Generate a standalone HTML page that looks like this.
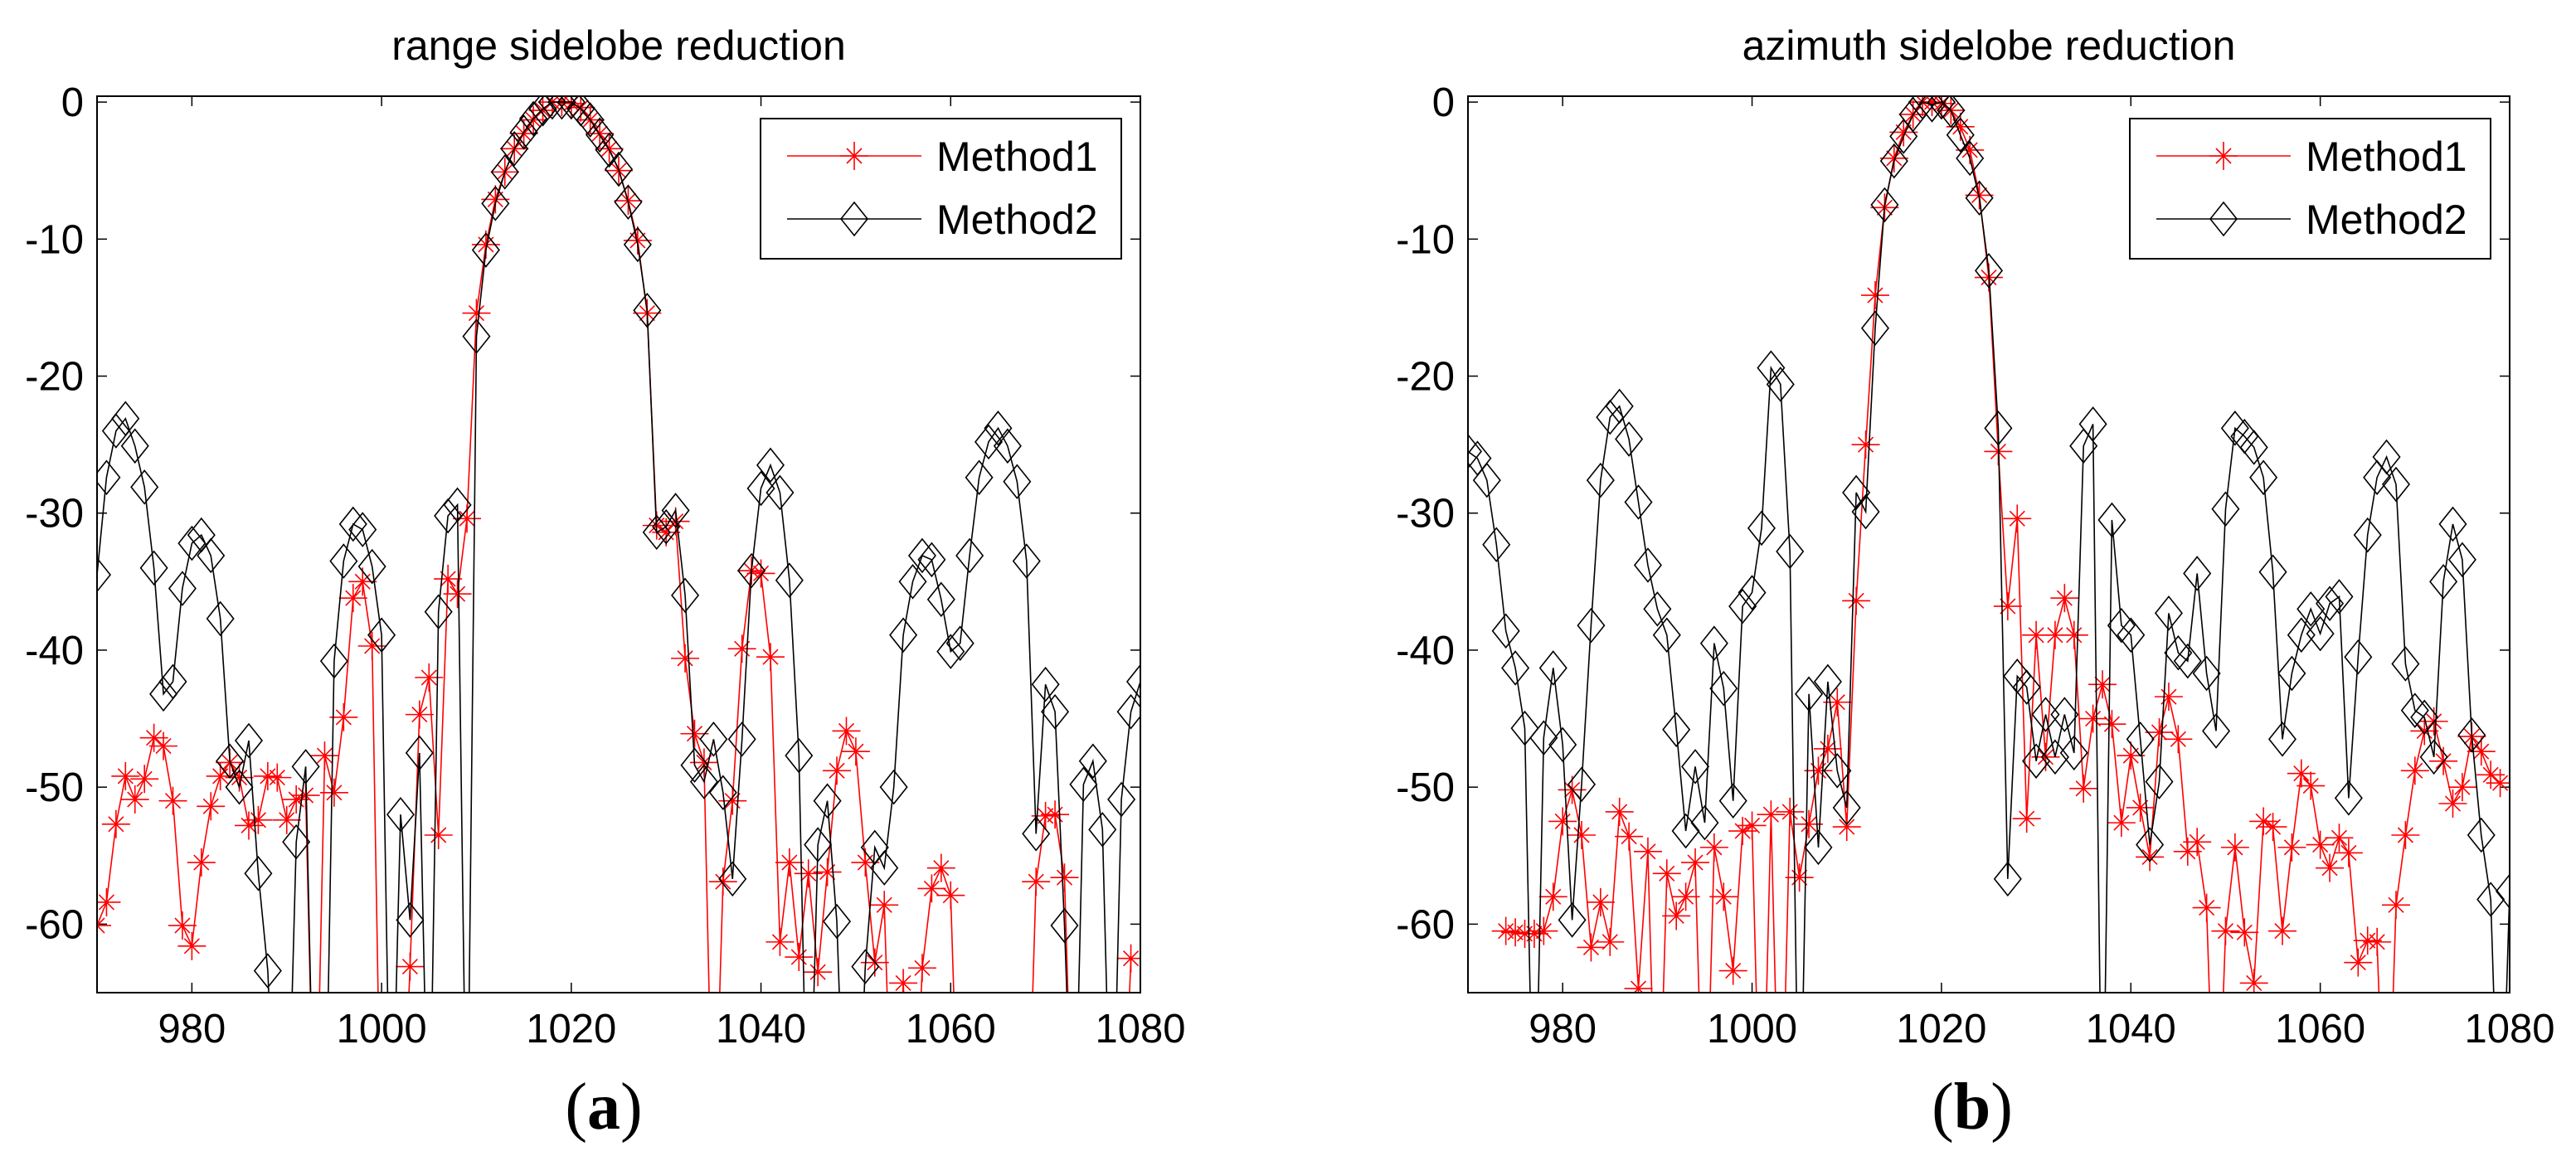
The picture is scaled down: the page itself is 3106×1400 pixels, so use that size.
<!DOCTYPE html>
<html><head><meta charset="utf-8"><style>
html,body{margin:0;padding:0;background:#fff;}
svg{display:block;font-family:"Liberation Sans",sans-serif;}
</style></head><body>
<svg id="fig" width="3106" height="1400" viewBox="0 0 3106 1400" xmlns="http://www.w3.org/2000/svg">
<rect x="0" y="0" width="3106" height="1400" fill="#fff"/>
</svg>
<script>
// ---- data ----
const xTicks = [980, 1000, 1020, 1040, 1060, 1080];
const yTicks = [0, -10, -20, -30, -40, -50, -60];
const rangeM2Start = 970;
const rangeM2 = [-34.5,-27.4,-24,-23.1,-25.1,-28.1,-34,-43.2,-42.3,-35.5,-32.2,-31.6,-33.1,-37.7,-48.1,-50,-46.6,-56.3,-63.4,-80,-80,-54,-48.5,-80,-80,-40.8,-33.5,-30.8,-31.2,-33.9,-38.9,-80,-52,-59.7,-47.5,-80,-37.2,-30.2,-29.4,-80,-17.1,-10.8,-7.4,-5.1,-3.4,-2.2,-1.2,-0.5,0,0,0,-0.5,-1.3,-2.4,-3.5,-4.9,-7.3,-10.4,-15.2,-31.4,-31,-29.8,-36,-48.4,-49.6,-46.5,-50.4,-56.7,-46.5,-34.2,-28.2,-26.5,-28.5,-34.9,-47.7,-80,-54.2,-51,-59.8,-80,-80,-63.1,-54.4,-55.9,-50,-38.9,-35,-33.1,-33.4,-36.3,-40.1,-39.5,-33.1,-27.4,-24.8,-23.8,-25.1,-27.7,-33.5,-53.4,-42.5,-44.5,-60.1,-80,-49.8,-48.1,-53.1,-80,-50.9,-44.5,-42.3];
const rangeM1Start = 970;
const rangeM1 = [-60.1,-58.4,-52.7,-49.2,-50.9,-49.4,-46.4,-47,-51,-60.1,-61.6,-55.5,-51.4,-49.2,-48.2,-49.3,-52.8,-52.4,-49.2,-49.3,-52.4,-50.9,-50.6,-80,-47.7,-50.4,-44.9,-36.2,-35,-39.7,-80,-80,-80,-63.1,-44.7,-42,-53.5,-34.8,-35.9,-30.4,-15.4,-10.4,-7.1,-5.1,-3.4,-2.3,-1.3,-0.6,0,0,-0.1,-0.4,-1.3,-2.3,-3.4,-5,-7.2,-10.1,-15.4,-30.9,-31.4,-30.6,-40.6,-46.1,-48.2,-80,-56.9,-51,-39.9,-34.2,-34.4,-40.5,-61.3,-55.5,-62.4,-56.3,-63.5,-56.2,-48.8,-45.9,-47.4,-55.5,-62.8,-58.6,-80,-64.3,-80,-63.2,-57.4,-55.9,-57.9,-80,-80,-80,-80,-80,-80,-80,-80,-56.9,-52.1,-52,-56.6,-80,-80,-80,-80,-80,-80,-62.5];
const aziM2Start = 970;
const aziM2 = [-25.5,-26,-27.6,-32.3,-38.6,-41.3,-45.7,-80,-46.4,-41.3,-46.9,-59.7,-49.8,-38.2,-27.6,-23,-22.2,-24.6,-29.2,-33.8,-37,-38.9,-45.8,-53.2,-48.5,-52.6,-39.5,-42.8,-51,-36.8,-35.8,-31.1,-19.4,-20.6,-32.8,-80,-43.2,-54.4,-42.3,-48.8,-51.5,-28.5,-29.9,-16.5,-7.5,-4.3,-2.5,-0.9,0,-0.2,0,-0.6,-2.4,-4.1,-7,-12.3,-23.8,-56.7,-41.9,-42.7,-48.1,-44.7,-47.8,-44.7,-47.5,-25.1,-23.5,-80,-30.5,-38.2,-38.9,-46.5,-54.2,-49.6,-37.3,-40.2,-40.8,-34.4,-41.7,-45.9,-29.7,-23.8,-24.4,-25.2,-27.4,-34.3,-46.5,-41.7,-38.9,-37,-38.8,-36.6,-36.1,-50.8,-40.5,-31.6,-27.4,-25.9,-27.9,-41,-44.4,-44.9,-47.8,-35,-30.8,-33.4,-46.2,-53.5,-58.2,-80,-57.6];
const aziM1Start = 974;
const aziM1 = [-60.5,-60.6,-60.7,-60.7,-60.5,-58,-52.5,-50.2,-53.5,-61.7,-58.4,-61.3,-51.8,-53.6,-64.7,-54.7,-80,-56.3,-59.4,-58,-55.5,-80,-54.4,-58,-63.4,-53.2,-52.8,-80,-52,-80,-51.8,-56.6,-52.7,-48.8,-47.2,-43.8,-52.9,-36.4,-25,-14.1,-7.7,-4.1,-2.2,-0.9,0,0,-0.1,-0.6,-1.8,-3.5,-6.8,-12.8,-25.5,-36.8,-30.4,-52.3,-38.9,-47.8,-38.9,-36.2,-38.9,-50.1,-45,-42.5,-45.4,-52.6,-47.7,-51.5,-55.1,-46,-43.4,-46.5,-54.7,-54,-58.8,-80,-60.5,-54.4,-60.6,-64.3,-52.5,-52.9,-60.5,-54.4,-49,-49.9,-54.2,-55.9,-53.7,-54.8,-62.8,-61.2,-61.3,-80,-58.6,-53.5,-48.8,-45.9,-45.2,-48.1,-51.2,-50,-46.3,-47.4,-49.1,-49.7];

const NS = "http://www.w3.org/2000/svg";
const svg = document.getElementById('fig');
function mk(tag, attrs, parent){ const e=document.createElementNS(NS,tag); for(const k in attrs) e.setAttribute(k,attrs[k]); (parent||svg).appendChild(e); return e; }

function drawPanel(p){
  const L=p.left, R=p.right, T=116, B=1197;
  const xmin=970, xmax=1080, ymin=-65, ymax=0.43;
  const xs=v=>L+(v-xmin)/(xmax-xmin)*(R-L);
  const ys=v=>T+(ymax-v)/(ymax-ymin)*(B-T);
  const g=mk('g',{});
  
  
  const clipId='clip-'+p.id;
  const defs=mk('defs',{},g);
  const cp=mk('clipPath',{id:clipId},defs);
  mk('rect',{x:L,y:T,width:R-L,height:B-T},cp);
  const t=mk('text',{x:(L+R)/2,y:72,'text-anchor':'middle','font-size':50,fill:'#000'},g);
  t.textContent=p.title;
  
  
  xTicks.forEach(v=>{
    const x=xs(v);
    mk('line',{x1:x,y1:B,x2:x,y2:B-12,stroke:'#000','stroke-width':1.5},g);
    mk('line',{x1:x,y1:T,x2:x,y2:T+12,stroke:'#000','stroke-width':1.5},g);
    const tx=mk('text',{x:x,y:1257,'text-anchor':'middle','font-size':49,fill:'#000'},g);
    tx.textContent=v;
    
    
  });
  yTicks.forEach(v=>{
    const y=ys(v);
    mk('line',{x1:L,y1:y,x2:L+12,y2:y,stroke:'#000','stroke-width':1.5},g);
    mk('line',{x1:R,y1:y,x2:R-12,y2:y,stroke:'#000','stroke-width':1.5},g);
    const ty=mk('text',{x:L-16,y:y+17,'text-anchor':'end','font-size':49,fill:'#000'},g);
    ty.textContent=v;
    
    
  });
  const pg=mk('g',{'clip-path':'url(#'+clipId+')'},g);
  function series(start, vals, color, marker, name){
    const sg=mk('g',{},pg);
    
    
    const pts=vals.map((v,i)=>xs(start+i).toFixed(1)+','+ys(v).toFixed(1)).join(' ');
    mk('polyline',{points:pts,fill:'none',stroke:color,'stroke-width':1.6},sg);
    vals.forEach((v,i)=>{
      const x=xs(start+i), y=ys(v);
      if(marker==='star') drawStar(sg,x,y);
      else drawDiamond(sg,x,y);
    });
  }
  series(p.m1s,p.m1,'#f00','star',p.id+'-method1-series');
  series(p.m2s,p.m2,'#000','diamond',p.id+'-method2-series');
  const box=mk('rect',{x:L,y:T,width:R-L,height:B-T,fill:'none',stroke:'#000','stroke-width':2},g);
  
  
  const lx=R-458, ly=143;
  const lg=mk('g',{},g);
  
  
  mk('rect',{x:lx,y:ly,width:435,height:169,fill:'#fff',stroke:'#000','stroke-width':2},lg);
  mk('line',{x1:lx+32,y1:ly+45,x2:lx+194,y2:ly+45,stroke:'#f00','stroke-width':1.6},lg);
  drawStar(lg,lx+113,ly+45);
  mk('line',{x1:lx+32,y1:ly+121,x2:lx+194,y2:ly+121,stroke:'#000','stroke-width':1.6},lg);
  drawDiamond(lg,lx+113,ly+121);
  const e1=mk('text',{x:lx+212,y:ly+63,'font-size':50,fill:'#000'},lg); e1.textContent='Method1';
  
  
  const e2=mk('text',{x:lx+212,y:ly+139,'font-size':50,fill:'#000'},lg); e2.textContent='Method2';
  
  
  const c=mk('text',{x:p.capX,y:1361,'text-anchor':'middle','font-size':80,'font-family':'"Liberation Serif",serif',fill:'#000'},g);
  c.innerHTML='(<tspan font-weight="bold">'+p.cap+'</tspan>)';
  
  
}
function drawStar(g,x,y){
  const d='M'+(x-17)+' '+y+'H'+(x+17)+'M'+x+' '+(y-17)+'V'+(y+17)+
    'M'+(x-9)+' '+(y-9)+'L'+(x+9)+' '+(y+9)+'M'+(x-9)+' '+(y+9)+'L'+(x+9)+' '+(y-9);
  mk('path',{d:d,stroke:'#f00','stroke-width':1.6,fill:'none'},g);
}
function drawDiamond(g,x,y){
  mk('path',{d:'M'+x+' '+(y-20)+'L'+(x+16)+' '+y+'L'+x+' '+(y+20)+'L'+(x-16)+' '+y+'Z',stroke:'#000','stroke-width':1.6,fill:'none'},g);
}
drawPanel({id:'range',left:117,right:1375,title:'range sidelobe reduction',m1s:rangeM1Start,m1:rangeM1,m2s:rangeM2Start,m2:rangeM2,cap:'a',capX:728});
drawPanel({id:'azimuth',left:1770,right:3026,title:'azimuth sidelobe reduction',m1s:aziM1Start,m1:aziM1,m2s:aziM2Start,m2:aziM2,cap:'b',capX:2378});
</script>
</body></html>
